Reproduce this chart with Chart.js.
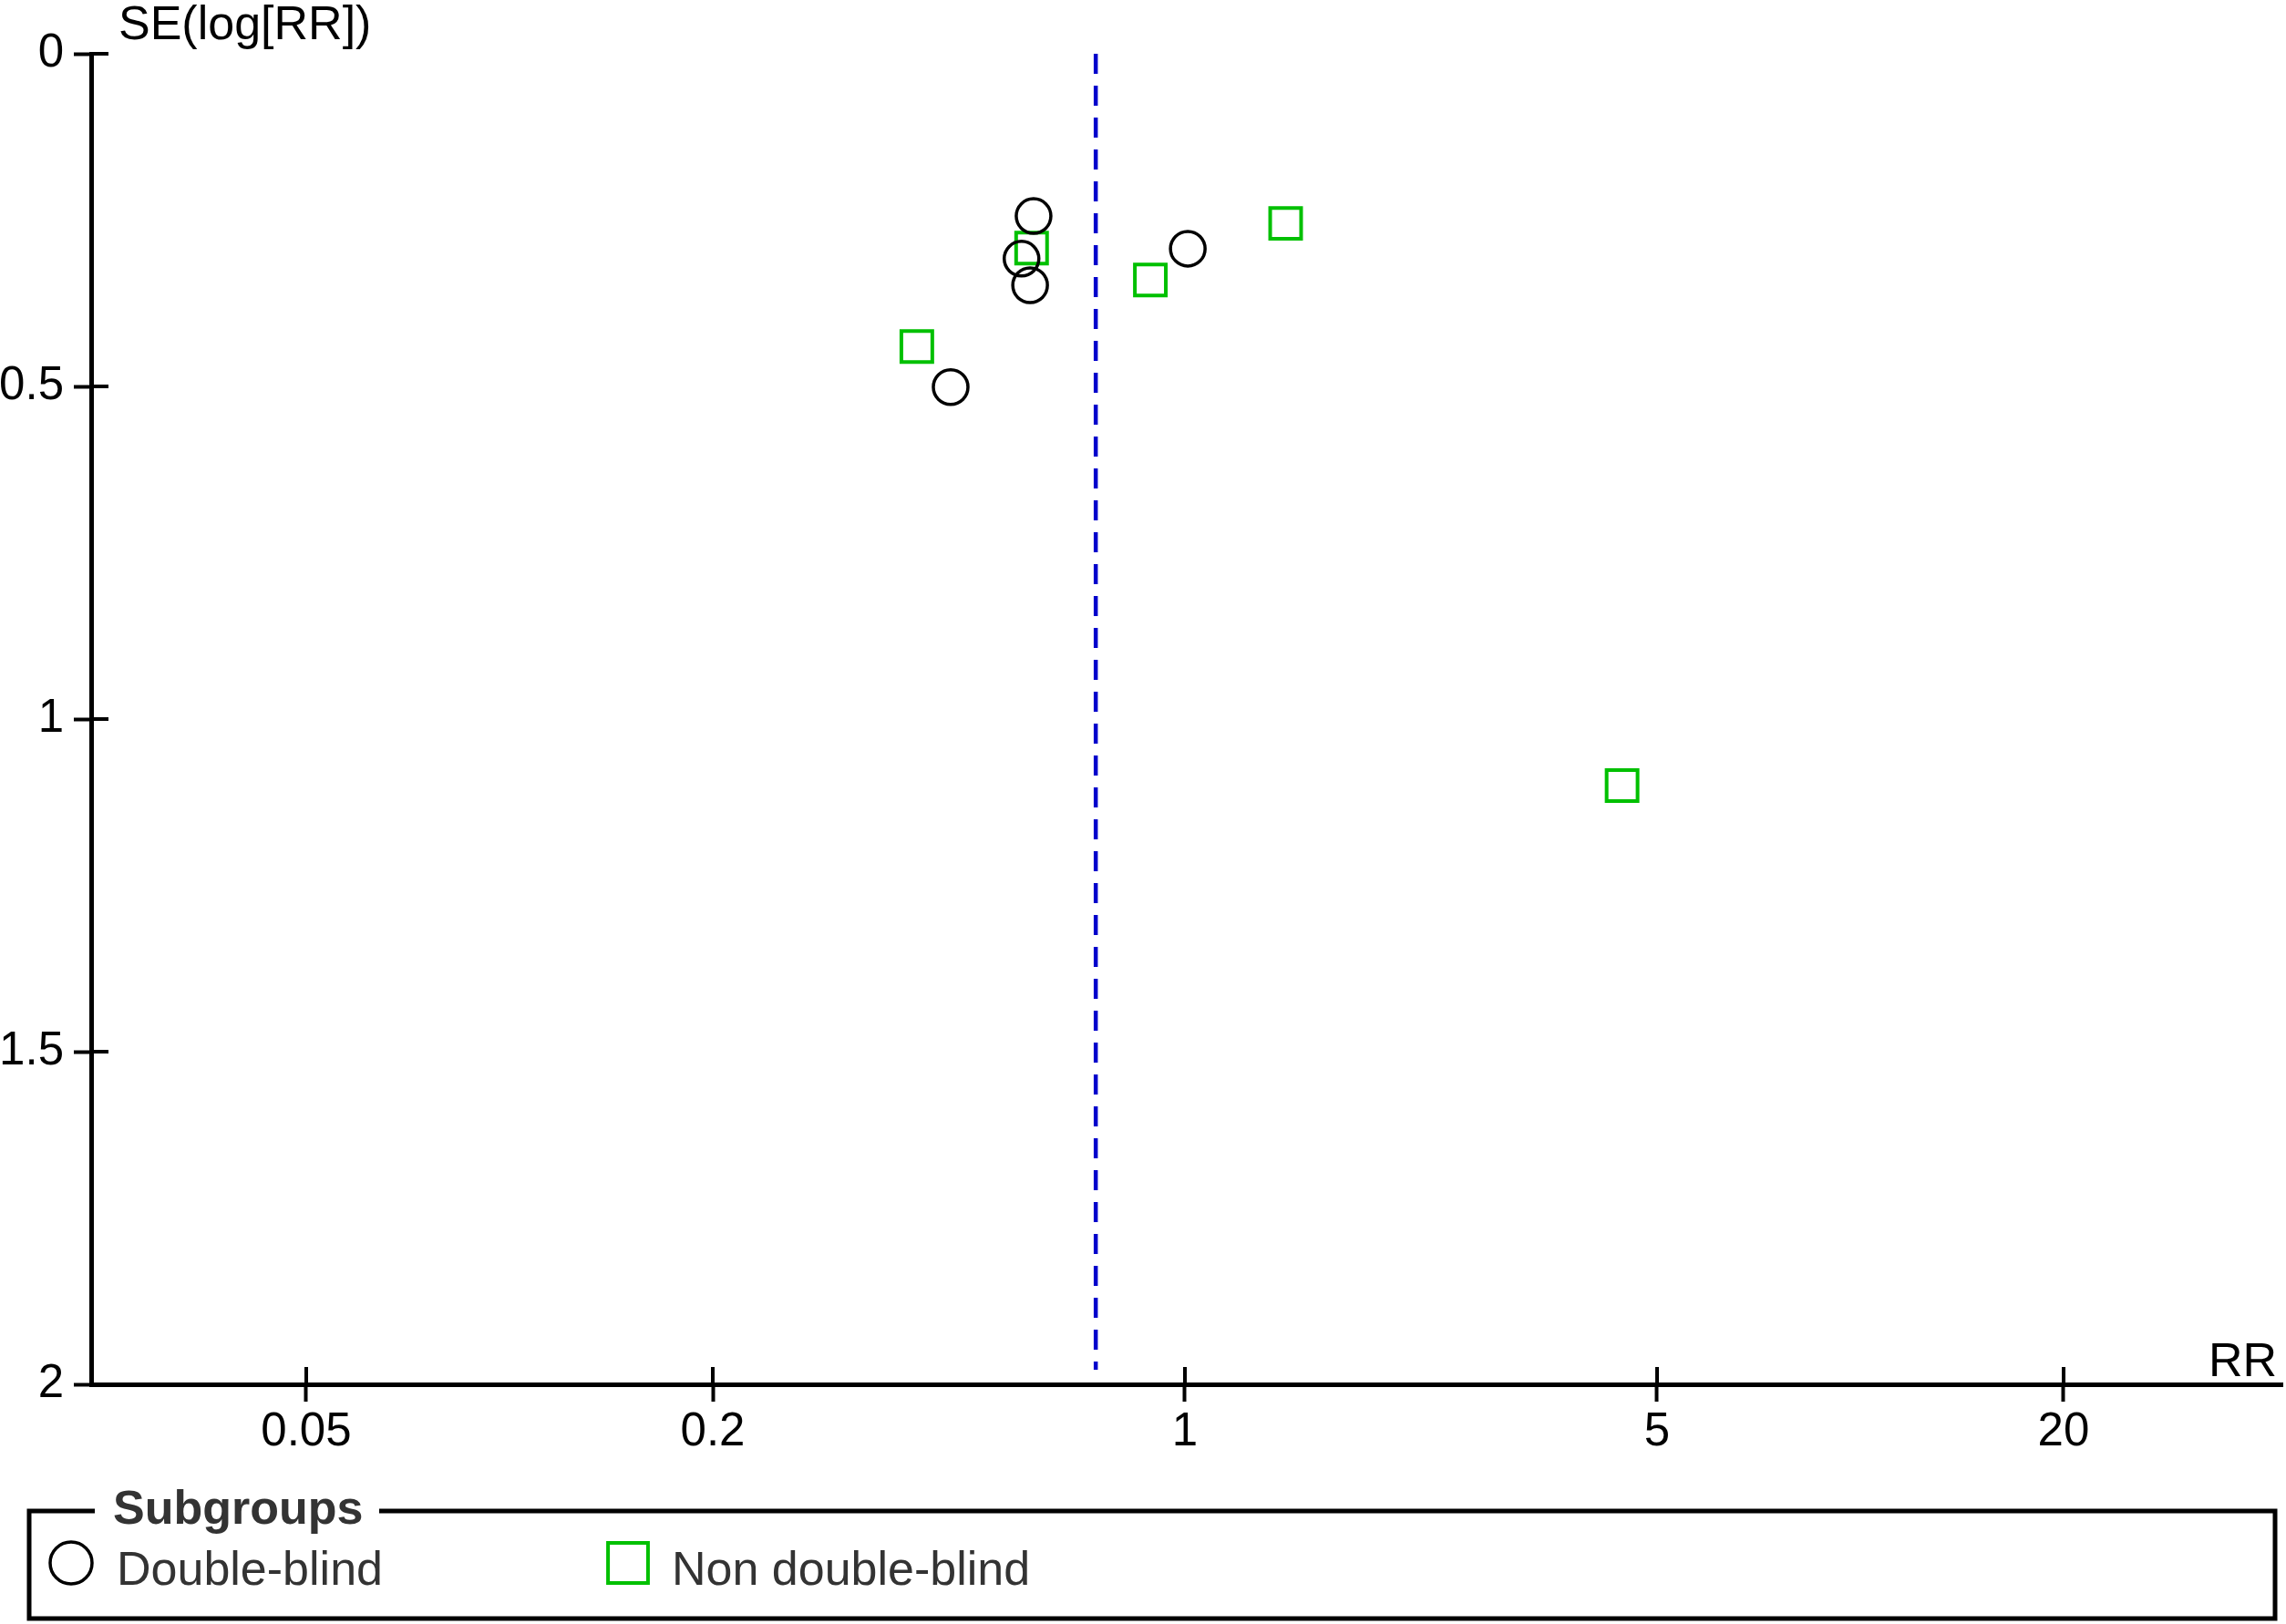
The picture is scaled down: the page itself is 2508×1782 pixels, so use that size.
<!DOCTYPE html>
<html>
<head>
<meta charset="utf-8">
<script src="https://cdn.jsdelivr.net/npm/chart.js@4/dist/chart.umd.min.js"></script>
<style>
  html, body { margin: 0; padding: 0; background: #fff; }
  canvas { display: block; }
</style>
</head>
<body>
<canvas id="funnel" width="2508" height="1782"></canvas>
<script>
// values
var doubleBlindRR = [0.597, 0.573, 0.590, 0.450, 1.01];
var doubleBlindSE = [0.244, 0.308, 0.348, 0.501, 0.293];
var nonDoubleBlindRR = [0.593, 0.401, 0.889, 1.41, 4.44];
var nonDoubleBlindSE = [0.292, 0.440, 0.340, 0.255, 1.100];
var pooledRR = 0.738;
var pooledSE = [0, 1.978];
var xTickValues = [0.05, 0.2, 1, 5, 20];
var yTickValues = [0, 0.5, 1, 1.5, 2];
var subgroupLabels = ['Double-blind', 'Non double-blind'];

var FONT = '"Liberation Sans", Arial, sans-serif';

function toPoints(xs, ys) {
    var pts = [];
    for (var i = 0; i < xs.length; i++) {
        pts.push({ x: xs[i], y: ys[i] });
    }
    return pts;
}

var extrasPlugin = {
    id: 'funnelExtras',
    afterDraw: function(chart) {
        var ctx = chart.ctx;
        var area = chart.chartArea;
        var xs = chart.scales.x, ys = chart.scales.y;
        ctx.save();

        // tick stubs on the inner side of both axes
        ctx.strokeStyle = '#000';
        ctx.lineWidth = 4;
        xs.ticks.forEach(function(t) {
            var px = Math.round(xs.getPixelForValue(t.value));
            ctx.beginPath();
            ctx.moveTo(px, area.bottom);
            ctx.lineTo(px, area.bottom - 19);
            ctx.stroke();
        });
        ys.ticks.forEach(function(t) {
            var py = Math.round(ys.getPixelForValue(t.value));
            ctx.beginPath();
            ctx.moveTo(area.left, py);
            ctx.lineTo(area.left + 19, py);
            ctx.stroke();
        });

        // axis titles
        ctx.fillStyle = '#000';
        ctx.font = '52px ' + FONT;
        ctx.textBaseline = 'alphabetic';
        ctx.textAlign = 'left';
        ctx.fillText('SE(log[RR])', 130, 43);
        ctx.textAlign = 'right';
        ctx.fillText('RR', 2498, 1510);

        // legend box with title set into the top border
        ctx.lineWidth = 5;
        ctx.beginPath();
        ctx.moveTo(104, 1658);
        ctx.lineTo(32, 1658);
        ctx.lineTo(32, 1776);
        ctx.lineTo(2496, 1776);
        ctx.lineTo(2496, 1658);
        ctx.lineTo(416, 1658);
        ctx.stroke();

        ctx.fillStyle = '#333';
        ctx.textAlign = 'left';
        ctx.font = 'bold 52px ' + FONT;
        ctx.fillText('Subgroups', 124, 1672);

        ctx.font = '52px ' + FONT;
        var items = [
            { ds: chart.data.datasets[1], mx: 78, tx: 128 },
            { ds: chart.data.datasets[2], mx: 689, tx: 737 }
        ];
        items.forEach(function(it) {
            ctx.strokeStyle = it.ds.borderColor;
            ctx.fillStyle = 'rgba(0,0,0,0)';
            ctx.lineWidth = it.ds.borderWidth;
            var r = it.ds.pointStyle === 'rect' ? 31 : 23;
            Chart.helpers.drawPoint(ctx, { pointStyle: it.ds.pointStyle, radius: r, borderWidth: it.ds.borderWidth }, it.mx, 1715);
            ctx.fillStyle = '#333';
            ctx.fillText(it.ds.label, it.tx, 1739);
        });

        ctx.restore();
    }
};

var chart = new Chart(document.getElementById('funnel'), {
    type: 'scatter',
    data: {
        datasets: [{
            type: 'line',
            label: 'Pooled RR',
            data: [{ x: pooledRR, y: pooledSE[0] }, { x: pooledRR, y: pooledSE[1] }],
            borderColor: '#0000CC',
            borderWidth: 4.5,
            borderDash: [22, 13],
            pointRadius: 0,
            fill: false
        }, {
            label: subgroupLabels[0],
            data: toPoints(doubleBlindRR, doubleBlindSE),
            pointStyle: 'circle',
            pointRadius: 19,
            borderColor: '#000',
            backgroundColor: 'rgba(0,0,0,0)',
            borderWidth: 3.5
        }, {
            label: subgroupLabels[1],
            data: toPoints(nonDoubleBlindRR, nonDoubleBlindSE),
            pointStyle: 'rect',
            pointRadius: 24,
            borderColor: '#00C000',
            backgroundColor: 'rgba(0,0,0,0)',
            borderWidth: 4
        }]
    },
    options: {
        responsive: false,
        animation: false,
        devicePixelRatio: 1,
        // markers must not push the plot box in (autoPadding did that)
        layout: { autoPadding: false, padding: { left: 0, top: 59, right: 4, bottom: 173 } },
        plugins: {
            legend: { display: false },
            tooltip: { enabled: false }
        },
        scales: {
            x: {
                type: 'logarithmic',
                min: 0.02402,
                max: 42.17,
                afterBuildTicks: function(scale) {
                    scale.ticks = xTickValues.map(function(v) { return { value: v }; });
                },
                afterFit: function(scale) {
                    scale.height = 90;
                    scale.paddingLeft = 0;
                    scale.paddingRight = 0;
                },
                ticks: {
                    autoSkip: false,
                    maxRotation: 0,
                    padding: 3,
                    color: '#000',
                    font: { family: FONT, size: 51 },
                    callback: function(value) { return String(value); }
                },
                grid: {
                    drawOnChartArea: false,
                    tickLength: 19,
                    tickWidth: 4,
                    tickColor: '#000'
                },
                border: { color: '#000', width: 5 }
            },
            y: {
                type: 'linear',
                reverse: true,
                min: 0,
                max: 2,
                afterBuildTicks: function(scale) {
                    scale.ticks = yTickValues.map(function(v) { return { value: v }; });
                },
                afterFit: function(scale) {
                    scale.width = 100;
                    scale.paddingTop = 0;
                    scale.paddingBottom = 0;
                },
                ticks: {
                    autoSkip: false,
                    padding: 11,
                    color: '#000',
                    font: { family: FONT, size: 51 },
                    callback: function(value) { return String(value); }
                },
                grid: {
                    drawOnChartArea: false,
                    tickLength: 19,
                    tickWidth: 4,
                    tickColor: '#000'
                },
                border: { color: '#000', width: 5 }
            }
        }
    },
    plugins: [extrasPlugin]
});
</script>
</body>
</html>
